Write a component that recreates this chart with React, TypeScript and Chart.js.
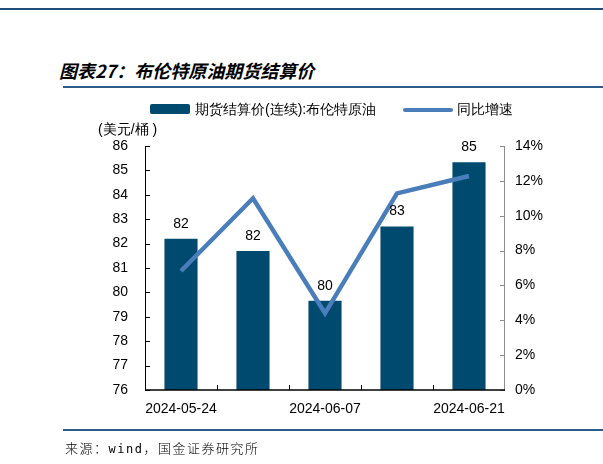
import React, { useEffect, useRef } from "react";
import { Chart, registerables } from "chart.js";

Chart.register(...registerables);

const categories = ["2024-05-24", "2024-05-31", "2024-06-07", "2024-06-14", "2024-06-21"];
const priceValues = [82.2, 81.7, 79.66, 82.7, 85.33];
const yoyValues = [6.83, 11.0, 4.4, 11.28, 12.28];
const priceLabel = "期货结算价(连续):布伦特原油";
const yoyLabel = "同比增速";
const titleText = "图表27：布伦特原油期货结算价";
const unitText = "(美元/桶 )";
const sourcePrefix = "来源：";
const sourceWord = "wind";
const sourceSuffix = "，国金证券研究所";

const BAR_COLOR = "rgb(0,74,111)";
const LINE_COLOR = "rgb(74,126,187)";
const FONT = "'Liberation Sans', Arial, sans-serif";

const axesPlugin = {
  id: "customAxes",
  afterDraw(chart: any) {
    const ctx = chart.ctx;
    const { left, right, top, bottom } = chart.chartArea;
    const y = chart.scales.y;
    const y1 = chart.scales.y1;
    const x = chart.scales.x;
    ctx.save();
    ctx.strokeStyle = "#000";
    ctx.lineWidth = 1;
    ctx.beginPath();
    ctx.moveTo(left + 0.5, top);
    ctx.lineTo(left + 0.5, bottom);
    y.ticks.forEach((t: any) => {
      const py = Math.round(y.getPixelForValue(t.value)) + 0.5;
      ctx.moveTo(left, py);
      ctx.lineTo(left + 5, py);
    });
    ctx.stroke();
    ctx.strokeStyle = "#8c8c8c";
    ctx.beginPath();
    ctx.moveTo(right - 0.5, top);
    ctx.lineTo(right - 0.5, bottom);
    y1.ticks.forEach((t: any) => {
      const py = Math.round(y1.getPixelForValue(t.value)) + 0.5;
      ctx.moveTo(right, py);
      ctx.lineTo(right - 5, py);
    });
    ctx.stroke();
    ctx.strokeStyle = "#000";
    ctx.lineWidth = 1.5;
    ctx.beginPath();
    ctx.moveTo(left, bottom);
    ctx.lineTo(right, bottom);
    ctx.stroke();
    ctx.lineWidth = 1;
    ctx.beginPath();
    for (let i = 0; i < categories.length - 1; i++) {
      const px = Math.round((x.getPixelForTick(i) + x.getPixelForTick(i + 1)) / 2) + 0.5;
      ctx.moveTo(px, bottom);
      ctx.lineTo(px, bottom - 5);
    }
    ctx.stroke();
    ctx.restore();
  },
  afterDatasetsDraw(chart: any) {
    const ctx = chart.ctx;
    const meta = chart.getDatasetMeta(0);
    ctx.save();
    ctx.fillStyle = "#000";
    ctx.font = `14px ${FONT}`;
    ctx.textAlign = "center";
    ctx.textBaseline = "middle";
    meta.data.forEach((bar: any, i: number) => {
      ctx.fillText(String(Math.round(priceValues[i])), bar.x, bar.y - 15);
    });
    ctx.restore();
  },
};

export default function App() {
  const ref = useRef<HTMLCanvasElement | null>(null);
  useEffect(() => {
    if (!ref.current) return;
    const chart = new Chart(ref.current, {
      type: "bar",
      data: {
        labels: categories,
        datasets: [
          {
            type: "bar",
            label: priceLabel,
            data: priceValues,
            backgroundColor: BAR_COLOR,
            yAxisID: "y",
            barPercentage: 0.46,
            categoryPercentage: 1,
            order: 1,
          },
          {
            type: "line",
            label: yoyLabel,
            data: yoyValues,
            borderColor: LINE_COLOR,
            backgroundColor: LINE_COLOR,
            borderWidth: 4.5,
            pointRadius: 0,
            borderJoinStyle: "miter",
            yAxisID: "y1",
            order: 0,
          } as any,
        ],
      },
      options: {
        responsive: false,
        animation: false,
        layout: { padding: { top: 146, left: 0, right: 0, bottom: 0 } },
        plugins: {
          legend: { display: false },
          tooltip: { enabled: false },
          title: { display: false },
        },
        scales: {
          x: {
            offset: true,
            grid: { display: false, drawTicks: false },
            border: { display: false },
            ticks: {
              autoSkip: false,
              maxRotation: 0,
              padding: 11,
              color: "#000",
              font: { family: FONT, size: 14 },
              callback: (_v: any, i: number) => (i % 2 === 0 ? categories[i] : ""),
            },
            afterFit: (s: any) => {
              s.height = 74;
            },
          },
          y: {
            position: "left",
            min: 76,
            max: 86,
            grid: { display: false, drawTicks: false },
            border: { display: false },
            ticks: {
              stepSize: 1,
              padding: 17,
              color: "#000",
              font: { family: FONT, size: 14 },
            },
            afterFit: (s: any) => {
              s.width = 145;
            },
          },
          y1: {
            position: "right",
            min: 0,
            max: 14,
            grid: { display: false, drawTicks: false },
            border: { display: false },
            ticks: {
              stepSize: 2,
              padding: 10,
              color: "#000",
              font: { family: FONT, size: 14 },
              callback: (v: any) => `${v}%`,
            },
            afterFit: (s: any) => {
              s.width = 98;
            },
          },
        },
      },
      plugins: [axesPlugin],
    });
    return () => chart.destroy();
  }, []);

  const abs = (s: React.CSSProperties): React.CSSProperties => ({ position: "absolute", ...s });

  return (
    <div style={{ position: "fixed", top: 0, left: 0, width: 603, height: 464, background: "#fff", overflow: "hidden" }}>
      <div style={abs({ left: 0, top: 8, width: 603, height: 2, background: "#1F4E79" })} />
      <div
        style={abs({
          left: 59,
          top: 58,
          fontFamily: "'Noto Sans CJK SC', sans-serif",
          fontSize: 18,
          fontWeight: "bold",
          fontStyle: "italic",
          lineHeight: "24px",
          color: "#000",
          whiteSpace: "nowrap",
        })}
      >
        {titleText}
      </div>
      <div style={abs({ left: 63, top: 86, width: 540, height: 2, background: "#2B5C8A" })} />
      <canvas ref={ref} width={603} height={464} style={abs({ left: 0, top: 0, width: 603, height: 464 })} />
      <div style={abs({ left: 150, top: 104, width: 40, height: 10, background: BAR_COLOR, borderRadius: 2 })} />
      <div style={abs({ left: 195, top: 100, fontFamily: FONT, fontSize: 14, lineHeight: "18px", color: "#000", whiteSpace: "nowrap" })}>
        {priceLabel}
      </div>
      <div style={abs({ left: 403, top: 107.5, width: 50, height: 4, background: LINE_COLOR, borderRadius: 2 })} />
      <div style={abs({ left: 457, top: 100, fontFamily: FONT, fontSize: 14, lineHeight: "18px", color: "#000", whiteSpace: "nowrap" })}>
        {yoyLabel}
      </div>
      <div style={abs({ left: 98, top: 120, fontFamily: FONT, fontSize: 14, lineHeight: "18px", color: "#000", whiteSpace: "nowrap" })}>
        {unitText}
      </div>
      <div style={abs({ left: 63, top: 429, width: 540, height: 2, background: "#2B5C8A" })} />
      <div
        style={abs({
          left: 65,
          top: 439,
          fontFamily: "'Noto Sans CJK SC', sans-serif",
          fontSize: 13,
          fontWeight: 300,
          letterSpacing: "1.5px",
          lineHeight: "18px",
          color: "#000",
          whiteSpace: "nowrap",
        })}
      >
        {sourcePrefix}
        <span style={{ fontFamily: "'DejaVu Sans Mono', monospace", fontSize: 12 }}>{sourceWord}</span>
        {sourceSuffix}
      </div>
    </div>
  );
}
